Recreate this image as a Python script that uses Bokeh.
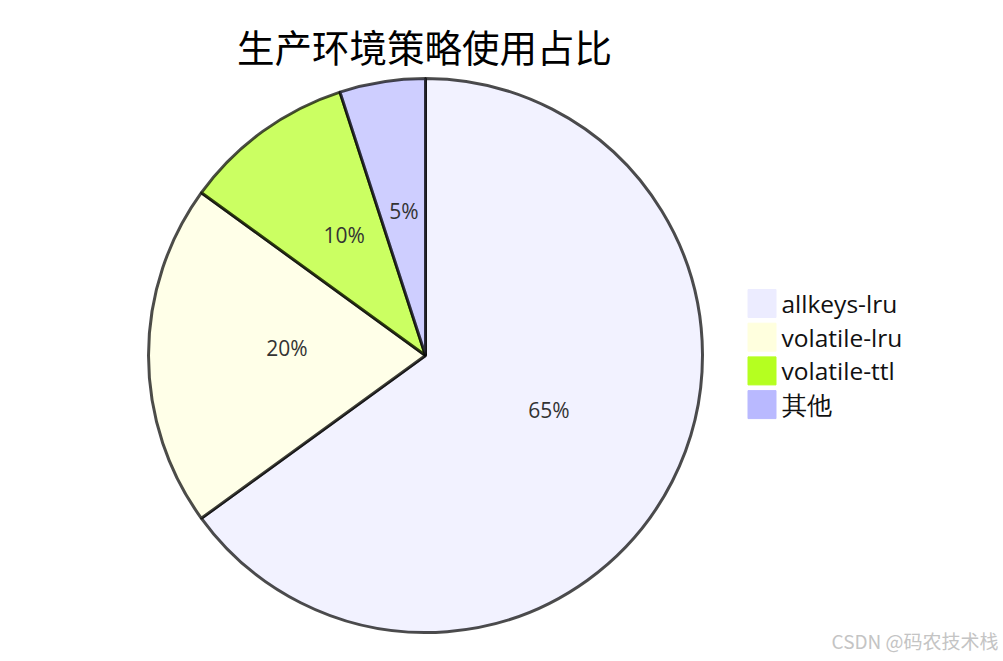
import numpy as np
from bokeh.plotting import figure
from bokeh.models import Range1d, ColumnDataSource
from bokeh.core.properties import value
from bokeh.embed import file_html
from bokeh.resources import INLINE

title = "生产环境策略使用占比"
categories = ["allkeys-lru", "volatile-lru", "volatile-ttl", "其他"]
percents = [65, 20, 10, 5]
colors = ["#ECECFF", "#ffffde", "#b5ff20", "#b9b9ff"]
watermark = "CSDN @码农技术栈"

W, H = 1000, 658
p = figure(width=W, height=H, output_backend="svg", toolbar_location=None,
           x_range=Range1d(0, W), y_range=Range1d(0, H), min_border=0)
p.axis.visible = False
p.grid.visible = False
p.outline_line_color = None
p.background_fill_color = "white"

def Y(py):
    return H - py

cx, cy, r = 425, Y(355), 277
vals = np.array(percents, dtype=float)
frac = vals / vals.sum()
c1 = np.cumsum(frac)
c0 = c1 - frac
start = np.deg2rad(90 - 360 * c1)
end = np.deg2rad(90 - 360 * c0)
mid = (c0 + c1) / 2 * 2 * np.pi
lr = r * 0.5
src = ColumnDataSource(dict(
    start=start, end=end, color=colors,
    lx=cx + lr * np.sin(mid), ly=cy + lr * np.cos(mid),
    label=[f"{v:g}%" for v in percents],
))
p.wedge(x=cx, y=cy, radius=r, start_angle="start", end_angle="end",
        fill_color="color", fill_alpha=0.7, line_color="black",
        line_alpha=0.7, line_width=3, source=src)
p.text(x="lx", y="ly", text="label", source=src, text_align="center",
       text_baseline="middle", y_offset=-8, text_font=value("Open Sans"),
       text_font_size="21px", text_color="#333333")

# title
p.text(x=[424], y=[Y(45)], text=[title], text_align="center",
       text_baseline="middle", text_font=value("Noto Sans CJK SC"),
       text_font_size="37.5px", text_color="#000000")

# legend
n = len(categories)
lys = [Y(303 + 33.7 * i) for i in range(n)]
lsrc = ColumnDataSource(dict(x=[761.5] * n, y=lys, color=colors,
                             tx=[781] * n, label=categories))
p.rect(x="x", y="y", width=28, height=28, fill_color="color",
       line_color="color", source=lsrc)
p.text(x="tx", y="y", text="label", source=lsrc, text_align="left",
       text_baseline="middle", text_font=value("Open Sans"),
       text_font_size="24.5px", text_color="#111111")

# watermark
p.text(x=[998], y=[Y(640)], text=[watermark], text_align="right",
       text_baseline="middle", text_font=value("Noto Sans CJK SC"),
       text_font_size="19px", text_color="#c4c4c4")

open("out.html", "w").write(file_html(p, INLINE))
